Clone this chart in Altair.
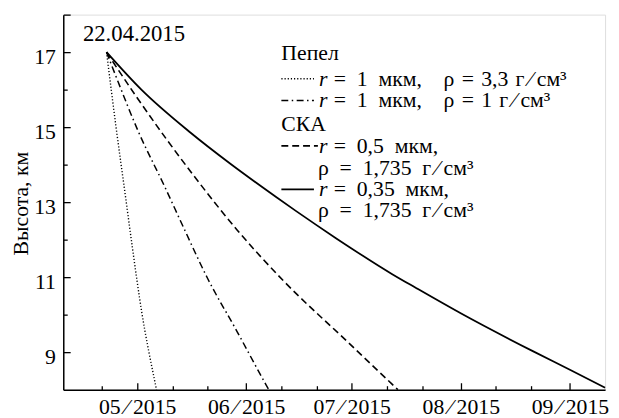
import altair as alt
import pandas as pd

S = "\u2004"   # three-per-em space
N = "\u2002"   # en space
E = "\u2003"   # em space
T = "\u2009"   # thin space
SL = T + "\u2044" + T

# x: day of year 2015, y: height in km
dotted_day = [112.3, 115.0, 117.7, 119.6, 122.3, 125.8, 126.5]
dotted_km = [17.0, 15.0, 13.14, 11.82, 10.07, 8.32, 8.0]
dashdot_day = [112.3, 115.2, 121.3, 128.9, 134.5, 141.0, 149.4, 157.8, 158.4]
dashdot_km = [17.0, 16.3, 14.89, 13.40, 12.26, 10.97, 9.55, 8.1, 8.0]
dashed_day = [112.3, 120.5, 129.8, 138.2, 149.4, 162.6, 180.3, 195.1]
dashed_km = [17.0, 15.85, 14.62, 13.57, 12.26, 10.90, 9.32, 8.0]
solid_day = [112.3, 122.2, 136.2, 147.4, 160.6, 166.2, 177.5, 193.5, 200.5, 213.1, 233.6, 244.0, 254.0]
solid_km = [17.0, 16.0, 14.85, 14.03, 13.13, 12.76, 12.04, 11.08, 10.70, 10.03, 9.02, 8.53, 8.05]

month_days = [121, 152, 182, 213, 244]
month_labels = ["05" + SL + "2015", "06" + SL + "2015", "07" + SL + "2015",
                "08" + SL + "2015", "09" + SL + "2015"]
minor_days = [111, 131, 141, 162, 172, 192, 202, 223, 233]
y_labels = [9, 11, 13, 15, 17]
y_major = [9, 11, 13, 15, 17, 18]
y_minor = [10, 12, 14, 16]

start_label = ["22.04.2015"]
start_label_day = [120.1]
start_label_km = [17.31]

legend_groups = ["Пепел", "СКА"]
legend_first = ["=" + N + "1" + N + "мкм," + E + "ρ" + S + "=" + S + "3,3" + S + "г" + SL + "см³",
                "=" + N + "1" + N + "мкм," + E + "ρ" + S + "=" + S + "1" + S + "г" + SL + "см³",
                "=" + N + "0,5" + N + "мкм,",
                "=" + N + "0,35" + N + "мкм,"]
legend_second = ["", "", "ρ" + N + "=" + N + "1,735" + N + "г" + SL + "см³",
                 "ρ" + N + "=" + N + "1,735" + N + "г" + SL + "см³"]

W, H = 549, 380
FONT = "Liberation Serif"
FS = 22

x_scale = alt.Scale(domain=[100, 254], nice=False, zero=False)
y_scale = alt.Scale(domain=[8, 18], nice=False, zero=False)

label_expr = ("[" + ",".join("'" + l + "'" for l in month_labels) + "][indexof(["
              + ",".join(str(v) for v in month_days) + "], datum.value)]")

dash_styles = [[1.2, 2], [7, 3.5, 1.5, 3.5], [7, 4], None]
widths = [1.4, 1.5, 1.6, 1.8]
series = [(dotted_day, dotted_km), (dashdot_day, dashdot_km),
          (dashed_day, dashed_km), (solid_day, solid_km)]

layers = []
for (days, kms), dash, w in zip(series, dash_styles, widths):
    d = pd.DataFrame({"day": days, "km": kms})
    kw = dict(color="black", strokeWidth=w, interpolate="monotone")
    if dash is not None:
        kw["strokeDash"] = dash
    layers.append(
        alt.Chart(d).mark_line(**kw).encode(
            x=alt.X("day:Q", scale=x_scale, axis=None),
            y=alt.Y("km:Q", scale=y_scale, axis=None),
            order="day:Q",
        )
    )

base_df = pd.DataFrame({"day": solid_day, "km": solid_km})

axis_labels = alt.Chart(base_df).mark_point(opacity=0).encode(
    x=alt.X("day:Q", scale=x_scale, axis=alt.Axis(
        orient="bottom", values=month_days, labelExpr=label_expr, ticks=False, tickSize=0,
        domain=True, domainColor="black", domainWidth=1.5, labelFont=FONT, labelFontSize=FS,
        labelColor="black", labelBaseline="alphabetic", labelPadding=24, labelAlign="center",
        grid=False, title=None, labelFlush=False, labelOverlap=False)),
    y=alt.Y("km:Q", scale=y_scale, axis=alt.Axis(
        orient="left", values=y_labels, ticks=False, tickSize=0, domain=True,
        domainColor="black", domainWidth=1.5, labelFont=FONT, labelFontSize=FS,
        labelColor="black", labelAlign="right", labelBaseline="alphabetic", labelOffset=12,
        labelPadding=8, grid=False, labelFlush=False, labelOverlap=False,
        title="Высота, км", titleFont=FONT, titleFontSize=FS, titleFontWeight="normal",
        titleColor="black", titleX=-36, titleY=191, titleAngle=270, titleAlign="center",
        titleBaseline="alphabetic")),
)

def tick_layer(xv, yv, size):
    return alt.Chart(base_df).mark_point(opacity=0).encode(
        x=alt.X("day:Q", scale=x_scale, axis=alt.Axis(
            orient="top", offset=-H, values=xv, labels=False, domain=False, ticks=True,
            tickSize=size, tickColor="black", tickWidth=1.3, grid=False, title=None)),
        y=alt.Y("km:Q", scale=y_scale, axis=alt.Axis(
            orient="right", offset=-W, values=yv, labels=False, domain=False, ticks=True,
            tickSize=size, tickColor="black", tickWidth=1.3, grid=False, title=None)),
    )

layers.append(axis_labels)
layers.append(tick_layer(month_days, y_major, 7))
layers.append(tick_layer(minor_days, y_minor, 4))

ann = pd.DataFrame({"day": start_label_day, "km": start_label_km, "t": start_label})
layers.append(alt.Chart(ann).mark_text(font=FONT, fontSize=23, align="center",
                                       baseline="alphabetic", color="black").encode(
    x=alt.X("day:Q", scale=x_scale, axis=None),
    y=alt.Y("km:Q", scale=y_scale, axis=None),
    text="t:N"))

# legend (drawn in pixel space of the plot area)
def txt(s, x, y, italic=False):
    kw = dict(font=FONT, fontSize=FS, align="left", baseline="alphabetic", color="black")
    if italic:
        kw["fontStyle"] = "italic"
    return alt.Chart(pd.DataFrame({"t": [s]})).mark_text(**kw).encode(
        x=alt.value(x), y=alt.value(y), text="t:N")

def sample(dash, w, x1, x2, y):
    kw = dict(color="black", strokeWidth=w)
    if dash is not None:
        kw["strokeDash"] = dash
    return alt.Chart(pd.DataFrame({"a": [0]})).mark_rule(**kw).encode(
        x=alt.value(x1), x2=alt.value(x2), y=alt.value(y))

LX = 221
group_y = [46, 118]
row_y = [72, 94, 140, 184]
second_y = [None, None, 162, 205]
sample_end = [254, 254, 258, 254]

for g, gy in zip(legend_groups, group_y):
    layers.append(txt(g, LX, gy))
for i in range(4):
    layers.append(sample(dash_styles[i], widths[i], LX, sample_end[i], row_y[i] - 7))
    layers.append(txt("r", 259, row_y[i], italic=True))
    layers.append(txt(legend_first[i], 274, row_y[i]))
    if legend_second[i]:
        layers.append(txt(legend_second[i], 258, second_y[i]))

chart = alt.layer(*layers).properties(
    width=W, height=H,
    padding={"left": 56, "top": 4, "right": 6, "bottom": 26},
    autosize=alt.AutoSizeParams(type="none"),
).resolve_axis(x="independent", y="independent").configure_view(stroke="transparent").configure(
    background="white")

chart.save("out.html", embed_options={"renderer": "svg", "actions": False})
